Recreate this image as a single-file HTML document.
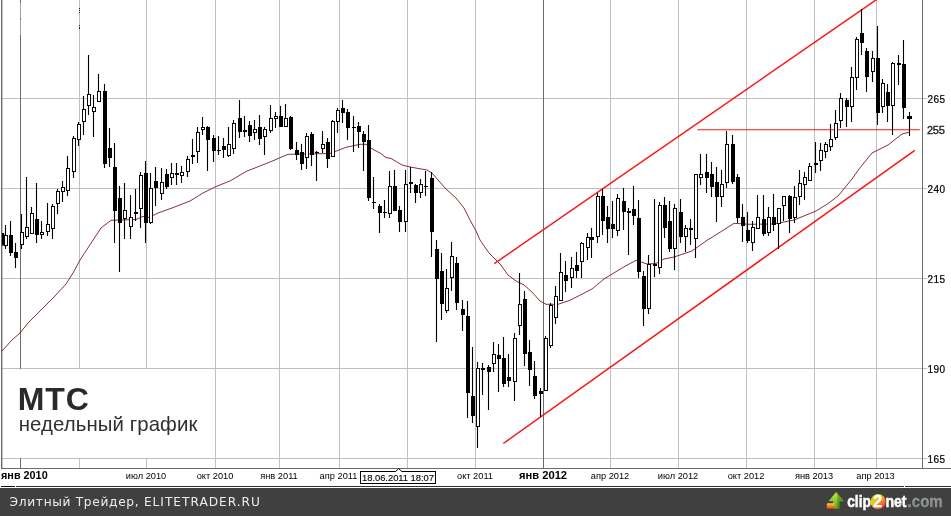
<!DOCTYPE html>
<html lang="ru">
<head>
<meta charset="utf-8">
<title>МТС — недельный график</title>
<style>
html,body{margin:0;padding:0;background:#fff;}
body{width:951px;height:516px;overflow:hidden;position:relative;font-family:"Liberation Sans",sans-serif;}
#chart{position:absolute;left:0;top:0;width:951px;height:516px;display:block;}
.lbl{position:absolute;white-space:nowrap;color:#000;font-size:9.25px;line-height:12px;top:470px;transform:translateX(-50%);}
.lbl.b{font-weight:bold;font-size:11.2px;top:469.4px;line-height:13px;}
.pr{position:absolute;left:927.6px;font-size:10px;letter-spacing:0.42px;line-height:12px;color:#000;white-space:nowrap;-webkit-text-stroke:0.2px #000;margin-top:2px;}
#cover{position:absolute;left:3px;top:369px;width:212px;height:89px;background:#fff;}
#t1{position:absolute;left:17.8px;top:382.2px;font-size:32px;letter-spacing:0.9px;line-height:34px;font-weight:bold;color:#2a2a2a;white-space:nowrap;}
#t2{position:absolute;left:18.7px;top:412px;font-size:20.4px;letter-spacing:0.08px;line-height:24px;color:#303030;white-space:nowrap;}
#datebox{position:absolute;left:360px;top:471px;width:74px;height:11px;border:1px solid #000;background:#fff;font-size:9.45px;letter-spacing:-0.05px;line-height:12.2px;-webkit-text-stroke:0.12px #000;text-align:center;white-space:nowrap;}
#bar{position:absolute;left:0;top:488px;width:951px;height:28px;background:#404040;}
#site{position:absolute;left:9.6px;top:494px;font-family:"DejaVu Sans","Liberation Sans",sans-serif;font-size:12.2px;line-height:16px;color:#ececec;letter-spacing:0.68px;white-space:nowrap;}
#logo{position:absolute;left:820px;top:488px;width:131px;height:28px;}
</style>
</head>
<body>
<svg id="chart" width="951" height="516" viewBox="0 0 951 516">
<rect x="0" y="0" width="951" height="516" fill="#fff"/>
<rect x="2" y="98" width="925" height="1" fill="#c0c0c0"/>
<rect x="2" y="188" width="925" height="1" fill="#c0c0c0"/>
<rect x="2" y="278" width="925" height="1" fill="#c0c0c0"/>
<rect x="2" y="368" width="925" height="1" fill="#c0c0c0"/>
<rect x="2" y="458" width="925" height="1" fill="#c0c0c0"/>
<rect x="79" y="0" width="1" height="468" fill="#c0c0c0"/>
<rect x="146" y="0" width="1" height="468" fill="#c0c0c0"/>
<rect x="215" y="0" width="1" height="468" fill="#c0c0c0"/>
<rect x="279" y="0" width="1" height="468" fill="#c0c0c0"/>
<rect x="339" y="0" width="1" height="468" fill="#c0c0c0"/>
<rect x="407" y="0" width="1" height="468" fill="#c0c0c0"/>
<rect x="475" y="0" width="1" height="468" fill="#c0c0c0"/>
<rect x="610" y="0" width="1" height="468" fill="#c0c0c0"/>
<rect x="678" y="0" width="1" height="468" fill="#c0c0c0"/>
<rect x="746" y="0" width="1" height="468" fill="#c0c0c0"/>
<rect x="814" y="0" width="1" height="468" fill="#c0c0c0"/>
<rect x="876" y="0" width="1" height="468" fill="#c0c0c0"/>
<rect x="543" y="0" width="1" height="468" fill="#6c6c6c"/>
<rect x="20" y="0" width="1" height="35" fill="#a4a4a4"/>
<rect x="20" y="35" width="1" height="433" fill="#6c6c6c"/>
<rect x="20" y="0" width="1" height="3" fill="#6c6c6c"/>
<rect x="20" y="18" width="1" height="2" fill="#6c6c6c"/>
<rect x="1" y="0" width="1.4" height="469" fill="#6c6c6c"/>
<rect x="922" y="0" width="1" height="469" fill="#6c6c6c"/>
<rect x="1" y="468" width="950" height="1" fill="#6c6c6c"/>
<rect x="79" y="8" width="1" height="1" fill="#222"/>
<rect x="79" y="10" width="1" height="1" fill="#222"/>
<rect x="79" y="12" width="1" height="1" fill="#222"/>
<rect x="79" y="25" width="1" height="1" fill="#222"/>
<rect x="79" y="27" width="1" height="1" fill="#222"/>
<rect x="79" y="28" width="1" height="1" fill="#222"/>
<polyline points="2,351 12,340 20,333 28,323 44,307 54,297 66,284 73,273 80,260 101,228 111,220.3 136,219.5 143,216.4 149,217.4 158,213 172,208 190,201 203,193 216,186.5 230,181 246,171.5 270,162 288,154.3 330,153.5 346,147.3 360,144.3 366,144.3 374,150 380,153 386,157.6 391,158.4 402,165 410,167 427,170 432,173 446,189 456,198 464,208 470,220 476,231 480,240 489,253 500,264 508,275 516,281 524,285 532,292 540,301 546,304.3 558,304.3 570,300.3 592,289 604,279 622,268 636,260.3 647,264 656,263.5 664,259 674,257 692,251 706,241 722,231 734,223.3 750,224.3 774,224 794,220 816,211 828,203.6 838,196 852,179 859,169 872,153 888,145 902,134 910,132" fill="none" stroke="#781a1e" stroke-width="0.9" stroke-linejoin="round"/>
<line x1="494.3" y1="263.6" x2="878" y2="-1.4" stroke="#fb1414" stroke-width="1.45"/>
<line x1="503.3" y1="443.5" x2="914.8" y2="150.3" stroke="#fb1414" stroke-width="1.5"/>
<line x1="697.5" y1="129.7" x2="919.8" y2="129.7" stroke="#fb1414" stroke-width="1.1"/>
<g fill="#000" stroke="none">
<rect x="2" y="233" width="2.2" height="12.5"/>
<rect x="4.95" y="225" width="1.1" height="24"/>
<rect x="4" y="235" width="4" height="11"/>
<rect x="4.96" y="235.96" width="2.08" height="9.08" fill="#fff"/>
<rect x="9.95" y="221" width="1.1" height="35"/>
<rect x="9" y="235" width="4" height="18"/>
<rect x="14.95" y="243" width="1.1" height="25"/>
<rect x="14" y="252" width="4" height="6"/>
<rect x="20.95" y="214" width="1.1" height="35"/>
<rect x="20" y="232" width="4" height="13"/>
<rect x="20.96" y="232.96" width="2.08" height="11.08" fill="#fff"/>
<rect x="25.95" y="177" width="1.1" height="62"/>
<rect x="25" y="227" width="4" height="10"/>
<rect x="25.96" y="227.96" width="2.08" height="8.08" fill="#fff"/>
<rect x="30.95" y="207" width="1.1" height="27"/>
<rect x="30" y="213" width="4" height="21"/>
<rect x="30.96" y="213.96" width="2.08" height="19.08" fill="#fff"/>
<rect x="35.95" y="183" width="1.1" height="60"/>
<rect x="35" y="219" width="4" height="16"/>
<rect x="40.95" y="221" width="1.1" height="18"/>
<rect x="40" y="232" width="4" height="3"/>
<rect x="40.96" y="232.96" width="2.08" height="1.08" fill="#fff"/>
<rect x="46.95" y="203" width="1.1" height="33"/>
<rect x="46" y="224" width="4" height="8"/>
<rect x="46.96" y="224.96" width="2.08" height="6.08" fill="#fff"/>
<rect x="51.95" y="204" width="1.1" height="35"/>
<rect x="51" y="206" width="4" height="23"/>
<rect x="51.96" y="206.96" width="2.08" height="21.08" fill="#fff"/>
<rect x="56.95" y="189" width="1.1" height="25"/>
<rect x="56" y="191" width="4" height="13"/>
<rect x="56.96" y="191.96" width="2.08" height="11.08" fill="#fff"/>
<rect x="61.95" y="181" width="1.1" height="21"/>
<rect x="61" y="187" width="4" height="5"/>
<rect x="61.96" y="187.96" width="2.08" height="3.08" fill="#fff"/>
<rect x="66.95" y="156" width="1.1" height="40"/>
<rect x="66" y="168" width="4" height="23"/>
<rect x="66.96" y="168.96" width="2.08" height="21.08" fill="#fff"/>
<rect x="72.95" y="136" width="1.1" height="42"/>
<rect x="72" y="138" width="4" height="34"/>
<rect x="72.96" y="138.96" width="2.08" height="32.08" fill="#fff"/>
<rect x="77.95" y="122" width="1.1" height="24"/>
<rect x="77" y="124" width="4" height="16"/>
<rect x="77.96" y="124.96" width="2.08" height="14.08" fill="#fff"/>
<rect x="82.95" y="96" width="1.1" height="39"/>
<rect x="82" y="109" width="4" height="13"/>
<rect x="82.96" y="109.96" width="2.08" height="11.08" fill="#fff"/>
<rect x="87.95" y="55" width="1.1" height="60"/>
<rect x="87" y="94" width="4" height="12"/>
<rect x="87.96" y="94.96" width="2.08" height="10.08" fill="#fff"/>
<rect x="92.95" y="95" width="1.1" height="42"/>
<rect x="92" y="107" width="4" height="5"/>
<rect x="92.96" y="107.96" width="2.08" height="3.08" fill="#fff"/>
<rect x="97.95" y="74" width="1.1" height="28"/>
<rect x="97" y="91" width="4" height="11"/>
<rect x="97.96" y="91.96" width="2.08" height="9.08" fill="#fff"/>
<rect x="103.95" y="84" width="1.1" height="84"/>
<rect x="103" y="91" width="4" height="73"/>
<rect x="108.95" y="128" width="1.1" height="39"/>
<rect x="108" y="148" width="4" height="10"/>
<rect x="113.95" y="143" width="1.1" height="100"/>
<rect x="113" y="167" width="4" height="44"/>
<rect x="118.95" y="186" width="1.1" height="86"/>
<rect x="118" y="198" width="4" height="25"/>
<rect x="123.95" y="183" width="1.1" height="56"/>
<rect x="123" y="210" width="4" height="9"/>
<rect x="123.96" y="210.96" width="2.08" height="7.08" fill="#fff"/>
<rect x="129.95" y="195" width="1.1" height="44"/>
<rect x="129" y="217" width="4" height="10"/>
<rect x="129.96" y="217.96" width="2.08" height="8.08" fill="#fff"/>
<rect x="134.95" y="189" width="1.1" height="32"/>
<rect x="134" y="212" width="4" height="2"/>
<rect x="139.95" y="172" width="1.1" height="56"/>
<rect x="139" y="175" width="4" height="34"/>
<rect x="139.96" y="175.96" width="2.08" height="32.08" fill="#fff"/>
<rect x="144.95" y="161" width="1.1" height="82"/>
<rect x="144" y="173" width="4" height="50"/>
<rect x="149.95" y="173" width="1.1" height="51"/>
<rect x="149" y="188" width="4" height="35"/>
<rect x="149.96" y="188.96" width="2.08" height="33.08" fill="#fff"/>
<rect x="154.95" y="167" width="1.1" height="39"/>
<rect x="154" y="181" width="4" height="7"/>
<rect x="160.95" y="168" width="1.1" height="32"/>
<rect x="160" y="182" width="4" height="12"/>
<rect x="160.96" y="182.96" width="2.08" height="10.08" fill="#fff"/>
<rect x="165.95" y="169" width="1.1" height="20"/>
<rect x="165" y="174" width="4" height="13"/>
<rect x="170.95" y="163" width="1.1" height="22"/>
<rect x="170" y="173" width="4" height="5"/>
<rect x="170.96" y="173.96" width="2.08" height="3.08" fill="#fff"/>
<rect x="175.95" y="163" width="1.1" height="22"/>
<rect x="175" y="173" width="4" height="2"/>
<rect x="180.95" y="166" width="1.1" height="17"/>
<rect x="180" y="172" width="4" height="4"/>
<rect x="180.96" y="172.96" width="2.08" height="2.08" fill="#fff"/>
<rect x="186.95" y="156" width="1.1" height="21"/>
<rect x="186" y="159" width="4" height="13"/>
<rect x="186.96" y="159.96" width="2.08" height="11.08" fill="#fff"/>
<rect x="191.95" y="139" width="1.1" height="25"/>
<rect x="191" y="155" width="4" height="2"/>
<rect x="196.95" y="127" width="1.1" height="36"/>
<rect x="196" y="132" width="4" height="20"/>
<rect x="196.96" y="132.96" width="2.08" height="18.08" fill="#fff"/>
<rect x="201.95" y="117" width="1.1" height="18"/>
<rect x="201" y="127" width="4" height="3"/>
<rect x="201.96" y="127.96" width="2.08" height="1.08" fill="#fff"/>
<rect x="206.95" y="126" width="1.1" height="45"/>
<rect x="206" y="127" width="4" height="13"/>
<rect x="212.95" y="135" width="1.1" height="27"/>
<rect x="212" y="138" width="4" height="13"/>
<rect x="217.95" y="136" width="1.1" height="19"/>
<rect x="217" y="150" width="4" height="1"/>
<rect x="222.95" y="138" width="1.1" height="20"/>
<rect x="222" y="146" width="4" height="4"/>
<rect x="227.95" y="127" width="1.1" height="30"/>
<rect x="227" y="144" width="4" height="12"/>
<rect x="227.96" y="144.96" width="2.08" height="10.08" fill="#fff"/>
<rect x="232.95" y="120" width="1.1" height="34"/>
<rect x="232" y="123" width="4" height="26"/>
<rect x="232.96" y="123.96" width="2.08" height="24.08" fill="#fff"/>
<rect x="238.95" y="100" width="1.1" height="38"/>
<rect x="238" y="118" width="4" height="14"/>
<rect x="243.95" y="116" width="1.1" height="21"/>
<rect x="243" y="130" width="4" height="2"/>
<rect x="248.95" y="121" width="1.1" height="21"/>
<rect x="248" y="125" width="4" height="11"/>
<rect x="253.95" y="120" width="1.1" height="20"/>
<rect x="253" y="129" width="4" height="4"/>
<rect x="253.96" y="129.96" width="2.08" height="2.08" fill="#fff"/>
<rect x="258.95" y="115" width="1.1" height="30"/>
<rect x="258" y="127" width="4" height="12"/>
<rect x="263.95" y="127" width="1.1" height="28"/>
<rect x="263" y="129" width="4" height="8"/>
<rect x="263.96" y="129.96" width="2.08" height="6.08" fill="#fff"/>
<rect x="269.95" y="105" width="1.1" height="28"/>
<rect x="269" y="118" width="4" height="13"/>
<rect x="269.96" y="118.96" width="2.08" height="11.08" fill="#fff"/>
<rect x="274.95" y="112" width="1.1" height="16"/>
<rect x="274" y="116" width="4" height="3"/>
<rect x="274.96" y="116.96" width="2.08" height="1.08" fill="#fff"/>
<rect x="279.95" y="106" width="1.1" height="21"/>
<rect x="279" y="116" width="4" height="11"/>
<rect x="284.95" y="104" width="1.1" height="23"/>
<rect x="284" y="118" width="4" height="9"/>
<rect x="284.96" y="118.96" width="2.08" height="7.08" fill="#fff"/>
<rect x="289.95" y="116" width="1.1" height="34"/>
<rect x="289" y="117" width="4" height="32"/>
<rect x="295.95" y="142" width="1.1" height="18"/>
<rect x="295" y="150" width="4" height="5"/>
<rect x="300.95" y="144" width="1.1" height="26"/>
<rect x="300" y="152" width="4" height="12"/>
<rect x="305.95" y="133" width="1.1" height="36"/>
<rect x="305" y="136" width="4" height="22"/>
<rect x="305.96" y="136.96" width="2.08" height="20.08" fill="#fff"/>
<rect x="310.95" y="132" width="1.1" height="34"/>
<rect x="310" y="134" width="4" height="21"/>
<rect x="315.95" y="151" width="1.1" height="30"/>
<rect x="315" y="152" width="4" height="1"/>
<rect x="321.95" y="131" width="1.1" height="22"/>
<rect x="321" y="144" width="4" height="5"/>
<rect x="321.96" y="144.96" width="2.08" height="3.08" fill="#fff"/>
<rect x="326.95" y="138" width="1.1" height="30"/>
<rect x="326" y="142" width="4" height="17"/>
<rect x="331.95" y="120" width="1.1" height="37"/>
<rect x="331" y="121" width="4" height="36"/>
<rect x="331.96" y="121.96" width="2.08" height="34.08" fill="#fff"/>
<rect x="336.95" y="108" width="1.1" height="25"/>
<rect x="336" y="110" width="4" height="12"/>
<rect x="336.96" y="110.96" width="2.08" height="10.08" fill="#fff"/>
<rect x="341.95" y="100" width="1.1" height="23"/>
<rect x="341" y="108" width="4" height="5"/>
<rect x="346.95" y="109" width="1.1" height="31"/>
<rect x="346" y="112" width="4" height="16"/>
<rect x="352.95" y="116" width="1.1" height="36"/>
<rect x="352" y="127" width="4" height="1"/>
<rect x="357.95" y="122" width="1.1" height="26"/>
<rect x="357" y="126" width="4" height="6"/>
<rect x="362.95" y="131" width="1.1" height="40"/>
<rect x="362" y="134" width="4" height="8"/>
<rect x="367.95" y="125" width="1.1" height="76"/>
<rect x="367" y="140" width="4" height="58"/>
<rect x="372.95" y="177" width="1.1" height="32"/>
<rect x="372" y="202" width="4" height="1"/>
<rect x="378.95" y="204" width="1.1" height="29"/>
<rect x="378" y="206" width="4" height="7"/>
<rect x="383.95" y="200" width="1.1" height="18"/>
<rect x="383" y="212" width="4" height="1"/>
<rect x="388.95" y="171" width="1.1" height="47"/>
<rect x="388" y="186" width="4" height="28"/>
<rect x="388.96" y="186.96" width="2.08" height="26.08" fill="#fff"/>
<rect x="393.95" y="170" width="1.1" height="41"/>
<rect x="393" y="186" width="4" height="25"/>
<rect x="398.95" y="206" width="1.1" height="26"/>
<rect x="398" y="210" width="4" height="12"/>
<rect x="404.95" y="170" width="1.1" height="62"/>
<rect x="404" y="184" width="4" height="38"/>
<rect x="404.96" y="184.96" width="2.08" height="36.08" fill="#fff"/>
<rect x="409.95" y="167" width="1.1" height="26"/>
<rect x="409" y="182" width="4" height="2"/>
<rect x="414.95" y="184" width="1.1" height="19"/>
<rect x="414" y="185" width="4" height="8"/>
<rect x="419.95" y="179" width="1.1" height="19"/>
<rect x="419" y="184" width="4" height="9"/>
<rect x="419.96" y="184.96" width="2.08" height="7.08" fill="#fff"/>
<rect x="424.95" y="171" width="1.1" height="25"/>
<rect x="424" y="186" width="4" height="1"/>
<rect x="430.95" y="172" width="1.1" height="85"/>
<rect x="430" y="178" width="4" height="54"/>
<rect x="435.95" y="240" width="1.1" height="102"/>
<rect x="435" y="249" width="4" height="30"/>
<rect x="440.95" y="253" width="1.1" height="67"/>
<rect x="440" y="271" width="4" height="33"/>
<rect x="445.95" y="269" width="1.1" height="44"/>
<rect x="445" y="288" width="4" height="23"/>
<rect x="445.96" y="288.96" width="2.08" height="21.08" fill="#fff"/>
<rect x="450.95" y="242" width="1.1" height="49"/>
<rect x="450" y="256" width="4" height="22"/>
<rect x="450.96" y="256.96" width="2.08" height="20.08" fill="#fff"/>
<rect x="455.95" y="257" width="1.1" height="53"/>
<rect x="455" y="263" width="4" height="40"/>
<rect x="461.95" y="300" width="1.1" height="31"/>
<rect x="461" y="309" width="4" height="6"/>
<rect x="466.95" y="301" width="1.1" height="117"/>
<rect x="466" y="316" width="4" height="77"/>
<rect x="471.95" y="347" width="1.1" height="76"/>
<rect x="471" y="396" width="4" height="20"/>
<rect x="476.95" y="362" width="1.1" height="86"/>
<rect x="476" y="368" width="4" height="59"/>
<rect x="476.96" y="368.96" width="2.08" height="57.08" fill="#fff"/>
<rect x="481.95" y="363" width="1.1" height="32"/>
<rect x="481" y="368" width="4" height="2"/>
<rect x="487.95" y="365" width="1.1" height="45"/>
<rect x="487" y="367" width="4" height="5"/>
<rect x="492.95" y="342" width="1.1" height="30"/>
<rect x="492" y="354" width="4" height="10"/>
<rect x="492.96" y="354.96" width="2.08" height="8.08" fill="#fff"/>
<rect x="497.95" y="344" width="1.1" height="48"/>
<rect x="497" y="355" width="4" height="4"/>
<rect x="502.95" y="337" width="1.1" height="50"/>
<rect x="502" y="358" width="4" height="26"/>
<rect x="507.95" y="354" width="1.1" height="33"/>
<rect x="507" y="377" width="4" height="4"/>
<rect x="513.95" y="333" width="1.1" height="68"/>
<rect x="513" y="338" width="4" height="44"/>
<rect x="513.96" y="338.96" width="2.08" height="42.08" fill="#fff"/>
<rect x="518.95" y="273" width="1.1" height="62"/>
<rect x="518" y="304" width="4" height="22"/>
<rect x="518.96" y="304.96" width="2.08" height="20.08" fill="#fff"/>
<rect x="523.95" y="291" width="1.1" height="75"/>
<rect x="523" y="299" width="4" height="55"/>
<rect x="528.95" y="340" width="1.1" height="46"/>
<rect x="528" y="352" width="4" height="18"/>
<rect x="533.95" y="361" width="1.1" height="38"/>
<rect x="533" y="376" width="4" height="20"/>
<rect x="539.95" y="388" width="1.1" height="29"/>
<rect x="539" y="391" width="4" height="3"/>
<rect x="544.95" y="336" width="1.1" height="55"/>
<rect x="544" y="338" width="4" height="53"/>
<rect x="544.96" y="338.96" width="2.08" height="51.08" fill="#fff"/>
<rect x="549.95" y="303" width="1.1" height="45"/>
<rect x="549" y="305" width="4" height="41"/>
<rect x="549.96" y="305.96" width="2.08" height="39.08" fill="#fff"/>
<rect x="554.95" y="286" width="1.1" height="38"/>
<rect x="554" y="296" width="4" height="22"/>
<rect x="554.96" y="296.96" width="2.08" height="20.08" fill="#fff"/>
<rect x="559.95" y="253" width="1.1" height="48"/>
<rect x="559" y="272" width="4" height="29"/>
<rect x="559.96" y="272.96" width="2.08" height="27.08" fill="#fff"/>
<rect x="564.95" y="261" width="1.1" height="31"/>
<rect x="564" y="275" width="4" height="6"/>
<rect x="570.95" y="257" width="1.1" height="31"/>
<rect x="570" y="268" width="4" height="10"/>
<rect x="570.96" y="268.96" width="2.08" height="8.08" fill="#fff"/>
<rect x="575.95" y="252" width="1.1" height="26"/>
<rect x="575" y="265" width="4" height="6"/>
<rect x="580.95" y="242" width="1.1" height="36"/>
<rect x="580" y="243" width="4" height="19"/>
<rect x="580.96" y="243.96" width="2.08" height="17.08" fill="#fff"/>
<rect x="586.95" y="233" width="1.1" height="27"/>
<rect x="586" y="237" width="4" height="11"/>
<rect x="586.96" y="237.96" width="2.08" height="9.08" fill="#fff"/>
<rect x="590.95" y="228" width="1.1" height="30"/>
<rect x="590" y="237" width="4" height="3"/>
<rect x="596.95" y="193" width="1.1" height="50"/>
<rect x="596" y="196" width="4" height="41"/>
<rect x="596.96" y="196.96" width="2.08" height="39.08" fill="#fff"/>
<rect x="601.95" y="189" width="1.1" height="46"/>
<rect x="601" y="196" width="4" height="25"/>
<rect x="606.95" y="206" width="1.1" height="37"/>
<rect x="606" y="217" width="4" height="12"/>
<rect x="611.95" y="201" width="1.1" height="37"/>
<rect x="611" y="224" width="4" height="5"/>
<rect x="616.95" y="194" width="1.1" height="42"/>
<rect x="616" y="198" width="4" height="33"/>
<rect x="616.96" y="198.96" width="2.08" height="31.08" fill="#fff"/>
<rect x="622.95" y="188" width="1.1" height="42"/>
<rect x="622" y="201" width="4" height="11"/>
<rect x="627.95" y="208" width="1.1" height="47"/>
<rect x="627" y="211" width="4" height="2"/>
<rect x="632.95" y="186" width="1.1" height="39"/>
<rect x="632" y="209" width="4" height="7"/>
<rect x="637.95" y="200" width="1.1" height="78"/>
<rect x="637" y="218" width="4" height="54"/>
<rect x="642.95" y="271" width="1.1" height="55"/>
<rect x="642" y="276" width="4" height="33"/>
<rect x="647.95" y="255" width="1.1" height="59"/>
<rect x="647" y="264" width="4" height="45"/>
<rect x="647.96" y="264.96" width="2.08" height="43.08" fill="#fff"/>
<rect x="653.95" y="199" width="1.1" height="78"/>
<rect x="653" y="264" width="4" height="2"/>
<rect x="658.95" y="202" width="1.1" height="72"/>
<rect x="658" y="205" width="4" height="63"/>
<rect x="658.96" y="205.96" width="2.08" height="61.08" fill="#fff"/>
<rect x="663.95" y="197" width="1.1" height="41"/>
<rect x="663" y="205" width="4" height="23"/>
<rect x="668.95" y="201" width="1.1" height="51"/>
<rect x="668" y="221" width="4" height="28"/>
<rect x="673.95" y="204" width="1.1" height="66"/>
<rect x="673" y="208" width="4" height="41"/>
<rect x="673.96" y="208.96" width="2.08" height="39.08" fill="#fff"/>
<rect x="679.95" y="199" width="1.1" height="44"/>
<rect x="679" y="212" width="4" height="25"/>
<rect x="684.95" y="225" width="1.1" height="27"/>
<rect x="684" y="228" width="4" height="9"/>
<rect x="684.96" y="228.96" width="2.08" height="7.08" fill="#fff"/>
<rect x="689.95" y="219" width="1.1" height="26"/>
<rect x="689" y="228" width="4" height="2"/>
<rect x="694.95" y="174" width="1.1" height="84"/>
<rect x="694" y="174" width="4" height="65"/>
<rect x="694.96" y="174.96" width="2.08" height="63.08" fill="#fff"/>
<rect x="699.95" y="154" width="1.1" height="31"/>
<rect x="699" y="174" width="4" height="4"/>
<rect x="699.96" y="174.96" width="2.08" height="2.08" fill="#fff"/>
<rect x="705.95" y="154" width="1.1" height="39"/>
<rect x="705" y="172" width="4" height="6"/>
<rect x="710.95" y="162" width="1.1" height="35"/>
<rect x="710" y="174" width="4" height="13"/>
<rect x="715.95" y="167" width="1.1" height="55"/>
<rect x="715" y="182" width="4" height="15"/>
<rect x="720.95" y="170" width="1.1" height="37"/>
<rect x="720" y="184" width="4" height="13"/>
<rect x="720.96" y="184.96" width="2.08" height="11.08" fill="#fff"/>
<rect x="725.95" y="131" width="1.1" height="57"/>
<rect x="725" y="144" width="4" height="39"/>
<rect x="725.96" y="144.96" width="2.08" height="37.08" fill="#fff"/>
<rect x="731.95" y="135" width="1.1" height="49"/>
<rect x="731" y="144" width="4" height="38"/>
<rect x="736.95" y="174" width="1.1" height="49"/>
<rect x="736" y="177" width="4" height="41"/>
<rect x="741.95" y="204" width="1.1" height="38"/>
<rect x="741" y="217" width="4" height="9"/>
<rect x="746.95" y="212" width="1.1" height="31"/>
<rect x="746" y="230" width="4" height="11"/>
<rect x="751.95" y="221" width="1.1" height="30"/>
<rect x="751" y="227" width="4" height="16"/>
<rect x="751.96" y="227.96" width="2.08" height="14.08" fill="#fff"/>
<rect x="756.95" y="195" width="1.1" height="34"/>
<rect x="756" y="217" width="4" height="12"/>
<rect x="756.96" y="217.96" width="2.08" height="10.08" fill="#fff"/>
<rect x="762.95" y="195" width="1.1" height="41"/>
<rect x="762" y="219" width="4" height="15"/>
<rect x="767.95" y="207" width="1.1" height="29"/>
<rect x="767" y="217" width="4" height="16"/>
<rect x="767.96" y="217.96" width="2.08" height="14.08" fill="#fff"/>
<rect x="772.95" y="194" width="1.1" height="37"/>
<rect x="772" y="217" width="4" height="8"/>
<rect x="777.95" y="208" width="1.1" height="41"/>
<rect x="777" y="208" width="4" height="16"/>
<rect x="777.96" y="208.96" width="2.08" height="14.08" fill="#fff"/>
<rect x="782.95" y="196" width="1.1" height="25"/>
<rect x="782" y="196" width="4" height="10"/>
<rect x="782.96" y="196.96" width="2.08" height="8.08" fill="#fff"/>
<rect x="788.95" y="195" width="1.1" height="38"/>
<rect x="788" y="196" width="4" height="23"/>
<rect x="793.95" y="186" width="1.1" height="37"/>
<rect x="793" y="197" width="4" height="21"/>
<rect x="793.96" y="197.96" width="2.08" height="19.08" fill="#fff"/>
<rect x="798.95" y="170" width="1.1" height="35"/>
<rect x="798" y="183" width="4" height="14"/>
<rect x="798.96" y="183.96" width="2.08" height="12.08" fill="#fff"/>
<rect x="803.95" y="172" width="1.1" height="28"/>
<rect x="803" y="177" width="4" height="8"/>
<rect x="803.96" y="177.96" width="2.08" height="6.08" fill="#fff"/>
<rect x="808.95" y="163" width="1.1" height="18"/>
<rect x="808" y="166" width="4" height="15"/>
<rect x="808.96" y="166.96" width="2.08" height="13.08" fill="#fff"/>
<rect x="814.95" y="142" width="1.1" height="31"/>
<rect x="814" y="163" width="4" height="2"/>
<rect x="819.95" y="143" width="1.1" height="28"/>
<rect x="819" y="150" width="4" height="11"/>
<rect x="819.96" y="150.96" width="2.08" height="9.08" fill="#fff"/>
<rect x="824.95" y="142" width="1.1" height="16"/>
<rect x="824" y="144" width="4" height="8"/>
<rect x="824.96" y="144.96" width="2.08" height="6.08" fill="#fff"/>
<rect x="829.95" y="124" width="1.1" height="27"/>
<rect x="829" y="139" width="4" height="8"/>
<rect x="829.96" y="139.96" width="2.08" height="6.08" fill="#fff"/>
<rect x="834.95" y="110" width="1.1" height="30"/>
<rect x="834" y="123" width="4" height="15"/>
<rect x="834.96" y="123.96" width="2.08" height="13.08" fill="#fff"/>
<rect x="839.95" y="93" width="1.1" height="35"/>
<rect x="839" y="98" width="4" height="23"/>
<rect x="839.96" y="98.96" width="2.08" height="21.08" fill="#fff"/>
<rect x="845.95" y="98" width="1.1" height="29"/>
<rect x="845" y="100" width="4" height="7"/>
<rect x="850.95" y="67" width="1.1" height="55"/>
<rect x="850" y="77" width="4" height="30"/>
<rect x="850.96" y="77.96" width="2.08" height="28.08" fill="#fff"/>
<rect x="855.95" y="37" width="1.1" height="53"/>
<rect x="855" y="39" width="4" height="39"/>
<rect x="855.96" y="39.96" width="2.08" height="37.08" fill="#fff"/>
<rect x="860.95" y="9" width="1.1" height="46"/>
<rect x="860" y="33" width="4" height="10"/>
<rect x="865.95" y="48" width="1.1" height="44"/>
<rect x="865" y="51" width="4" height="26"/>
<rect x="871.95" y="51" width="1.1" height="31"/>
<rect x="871" y="58" width="4" height="14"/>
<rect x="871.96" y="58.96" width="2.08" height="12.08" fill="#fff"/>
<rect x="876.95" y="26" width="1.1" height="99"/>
<rect x="876" y="58" width="4" height="55"/>
<rect x="881.95" y="79" width="1.1" height="34"/>
<rect x="881" y="83" width="4" height="24"/>
<rect x="881.96" y="83.96" width="2.08" height="22.08" fill="#fff"/>
<rect x="886.95" y="84" width="1.1" height="38"/>
<rect x="886" y="92" width="4" height="14"/>
<rect x="891.95" y="62" width="1.1" height="73"/>
<rect x="891" y="63" width="4" height="43"/>
<rect x="891.96" y="63.96" width="2.08" height="41.08" fill="#fff"/>
<rect x="897.95" y="55" width="1.1" height="30"/>
<rect x="897" y="63" width="4" height="2"/>
<rect x="902.95" y="40" width="1.1" height="79"/>
<rect x="902" y="64" width="4" height="44"/>
<rect x="908.95" y="112" width="1.1" height="24"/>
<rect x="907" y="116" width="5" height="3"/>
</g>
<!-- scrollbar-ish line -->
<rect x="1" y="486" width="14" height="1" fill="#000"/>
<rect x="16" y="486" width="888" height="1" fill="#2e2e2e"/>
<rect x="905" y="486" width="46" height="1" fill="#2e2e2e"/>
</svg>

<div id="cover"></div>
<div id="t1">МТС</div>
<div id="t2">недельный график</div>

<div class="pr" style="top:92px">265</div>
<div class="pr" id="p255" style="top:123.6px;left:927px;font-size:11.1px;letter-spacing:-0.35px;margin-top:0;color:#1c1c1c;-webkit-text-stroke:0.35px #1c1c1c;">255</div>
<div class="pr" style="top:182px">240</div>
<div class="pr" style="top:272px">215</div>
<div class="pr" style="top:362px">190</div>
<div class="pr" style="top:452px">165</div>

<div class="lbl b" style="left:1px;top:469.3px;font-size:10.85px;transform:none;">янв 2010</div>
<div class="lbl" style="left:146px">июл 2010</div>
<div class="lbl" style="left:215px">окт 2010</div>
<div class="lbl" style="left:279px">янв 2011</div>
<div class="lbl" style="left:338.5px">апр 2011</div>
<div id="datebox">18.06.2011 18:07</div>
<svg style="position:absolute;left:392px;top:466px" width="14" height="8" viewBox="392 466 14 8"><path d="M395.6 472.2 L395.6 471.5 L398.7 468.7 L401.8 471.5 L401.8 472.2 Z" fill="#fff"/><path d="M395.3 471.7 L398.7 468.7 L402.1 471.7" fill="none" stroke="#000" stroke-width="0.95"/></svg>
<div class="lbl" style="left:475px">окт 2011</div>
<div class="lbl b" style="left:543px">янв 2012</div>
<div class="lbl" style="left:610px">апр 2012</div>
<div class="lbl" style="left:678px">июл 2012</div>
<div class="lbl" style="left:746px">окт 2012</div>
<div class="lbl" style="left:814px">янв 2013</div>
<div class="lbl" style="left:875.5px">апр 2013</div>

<div id="bar"></div>
<div id="site">Элитный Трейдер, <span style="letter-spacing:0.98px">ELITETRADER.RU</span></div>
<svg id="logo" width="131" height="28" viewBox="820 488 131 28">
<defs>
<linearGradient id="ga" x1="0" y1="0" x2="0" y2="1"><stop offset="0" stop-color="#c4ea4a"/><stop offset="1" stop-color="#5aa614"/></linearGradient>
<linearGradient id="gb" x1="0" y1="0" x2="0" y2="1"><stop offset="0" stop-color="#ffd83a"/><stop offset="1" stop-color="#e43a16"/></linearGradient>
<linearGradient id="gc" x1="0.1" y1="0.05" x2="0.85" y2="0.95"><stop offset="0" stop-color="#6fbf1e"/><stop offset="0.3" stop-color="#f3d21c"/><stop offset="0.62" stop-color="#fa8a18"/><stop offset="1" stop-color="#ee2c6e"/></linearGradient>
<linearGradient id="gd" x1="0" y1="0" x2="0" y2="1"><stop offset="0" stop-color="#a9b0ae"/><stop offset="1" stop-color="#7d8281"/></linearGradient>
</defs>
<path d="M836.2 492 L843.9 501.2 L839.4 501.2 L839.4 508.8 L833 508.8 L833 501.2 L828.4 501.2 Z" fill="url(#ga)"/>
<path d="M836.2 492 L843.9 501.2 L839.4 501.2 L839.4 508.8 L837.4 508.8 L837.4 496 Z" fill="#2f7a0c" opacity="0.55"/>
<rect x="826.8" y="503.2" width="7.8" height="5.6" rx="0.8" fill="url(#gb)"/>
<text transform="translate(847.2,506.7) scale(0.80,1)" font-family="Liberation Sans, sans-serif" font-weight="bold" font-size="17.2" fill="#fff" stroke="#fff" stroke-width="0.55">clip</text>
<text transform="translate(885.4,506.7) scale(0.82,1)" font-family="Liberation Sans, sans-serif" font-weight="bold" font-size="17.2" fill="#fff" stroke="#fff" stroke-width="0.55">net</text>
<text transform="translate(907.6,506.7) scale(0.875,1)" font-family="Liberation Sans, sans-serif" font-weight="bold" font-size="17.2" fill="url(#gd)" stroke="#8f9493" stroke-width="0.3">.com</text>
<circle cx="878.1" cy="501.7" r="7.6" fill="url(#gc)"/>
<text x="873.1" y="507.3" font-family="Liberation Sans, sans-serif" font-weight="bold" font-size="16.4" fill="#fff" stroke="#fff" stroke-width="0.35">2</text>
</svg>
</body>
</html>
